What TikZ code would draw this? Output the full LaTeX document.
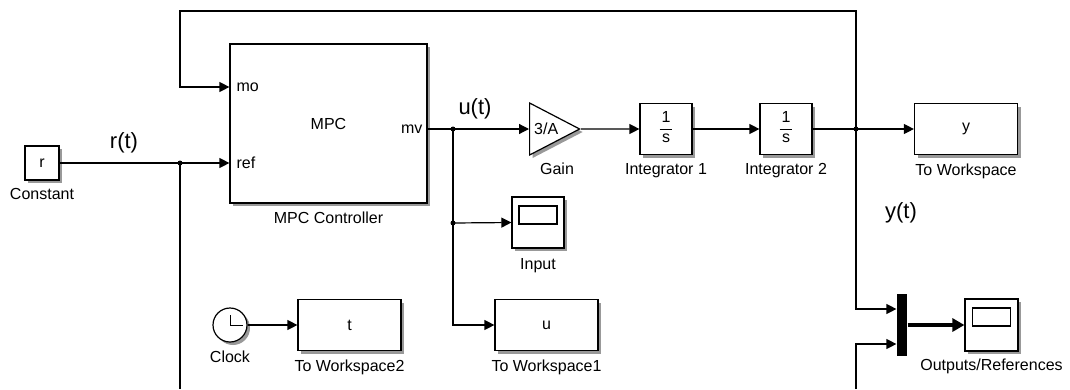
\documentclass[tikz,border=0pt]{standalone}
\usepackage{fontspec}
\setmainfont{Liberation Sans}
\usepackage{tikz}
\usetikzlibrary{shapes.geometric, arrows.meta, positioning, calc, shadows}

\newcommand{\intgr}{{\setlength{\arrayrulewidth}{1pt}%
  \begin{tabular}{@{\hspace{2pt}}c@{\hspace{2pt}}}1\\[1pt]\hline s\end{tabular}}}

\begin{document}
\begin{tikzpicture}[x=1pt, y=-1pt, line width=1.2pt, on grid,
  font=\fontsize{16}{18}\selectfont,
  blockshadow/.style={general shadow={shadow xshift=3pt, shadow yshift=-3pt, fill=black!40}},
  block/.style={draw, fill=white, inner sep=0pt, blockshadow},
  sink/.style={block, minimum width=103pt, minimum height=51pt},
  viewer/.style={block, minimum width=52pt, minimum height=51pt,
    path picture={\draw[line width=1.2pt]
      ([xshift=-19pt, yshift=-9pt]path picture bounding box.north) rectangle
      ([xshift=19pt, yshift=-27pt]path picture bounding box.north);}},
  blocklabel/.style={inner sep=0pt, text height=11pt, text depth=3pt},
  port/.style={inner sep=0pt},
  sig/.style={-{Triangle[length=10pt, width=10pt]}},
  bus/.style={line width=3.5pt, -{Triangle[length=12pt, width=13pt]}},
  dot/.style={circle, fill, inner sep=0pt, minimum size=5pt},
  sigtag/.style={font=\fontsize{22}{24}\selectfont, inner sep=0pt}]

  \useasboundingbox (0,0) rectangle (1070,389);

  % blocks
  \node[block, minimum width=34pt, minimum height=34pt] (cst) at (42,163) {r};
  \node[block, minimum width=197pt, minimum height=159pt] (mpc) at (328.5,123.5) {MPC};
  \node[port, anchor=west] (mo) at (236,87) {mo};
  \node[port, anchor=west] (ref) at (236,163) {ref};
  \node[port, anchor=east] (mv) at (423,129) {mv};
  \node[draw, fill=white, blockshadow, isosceles triangle, isosceles triangle stretches,
    minimum width=52pt, minimum height=50pt, inner sep=0pt, anchor=west]
    (gain) at (529,129) {3/A};
  \node[block, minimum width=52pt, minimum height=51pt] (int1) at (666,129) {\intgr};
  \node[block, minimum width=52pt, minimum height=51pt] (int2) [right=120pt of int1] {\intgr};
  \node[sink] (ysink) [right=180pt of int2] {y};
  \node[viewer] (inscope) at (538,222.5) {};
  \node[draw, circle, fill=white, blockshadow, minimum size=34pt, inner sep=0pt] (clk) at (230,325) {};
  \node[sink] (tsink) at (349.5,325) {t};
  \node[sink] (usink) at (546.5,325) {u};
  \node[fill, minimum width=10pt, minimum height=62pt, inner sep=0pt] (mux) at (902,325) {};
  \node[viewer, minimum width=53pt, minimum height=52pt] (outscope) at (991.5,325) {};

  % captions
  \node[blocklabel] (cstlbl) [below=32pt of cst] {Constant};
  \node[blocklabel] (mpclbl) [below=95.5pt of mpc] {MPC Controller};
  \node[blocklabel] (gainlbl) at (557,170) {Gain};
  \node[blocklabel] (int1lbl) [below=41pt of int1] {Integrator 1};
  \node[blocklabel] (int2lbl) [below=41pt of int2] {Integrator 2};
  \node[blocklabel] (ysinklbl) [below=42pt of ysink] {To Workspace};
  \node[blocklabel] (inscopelbl) [below=42.5pt of inscope] {Input};
  \node[blocklabel] (clklbl) [below=33pt of clk] {Clock};
  \node[blocklabel] (tsinklbl) [below=42pt of tsink] {To Workspace2};
  \node[blocklabel] (usinklbl) [below=42pt of usink] {To Workspace1};
  \node[blocklabel] (outscopelbl) [below=41pt of outscope] {Outputs/References};

  % signal names
  \node[sigtag] (rtag) at (124,143) {r(t)};
  \node[sigtag] (utag) at (475,109) {u(t)};
  \node[sigtag] (ytag) at (901,213) {y(t)};

  % branch points
  \node[dot] (jr) at (180,163) {};
  \node[dot] (ju) at (453,129) {};
  \node[dot] (jin) at (453,223) {};
  \node[dot] (jy) at (856,129) {};
  \coordinate (fbk) at (180,11);
  \coordinate (rbot) at (180,389);
  \coordinate (ybot) at (856,389);

  % clock hands
  \draw[line width=1pt] (clk.center) -- ++(0,-10);
  \draw[line width=1pt] (clk.center) -- ++(13,0);

  % connectors
  \draw (cst.east) -- (jr.center);
  \draw[sig] (jr.center) -- (mpc.west |- ref);
  \draw (jr.center) -- (rbot);
  \draw (mpc.east |- mv) -- (ju.center);
  \draw[sig] (ju.center) -- (gain.west);
  \draw[sig] (gain.east) -- (int1.west);
  \draw[sig] (int1.east) -- (int2.west);
  \draw (int2.east) -- (jy.center);
  \draw[sig] (jy.center) -- (ysink.west);
  \draw[sig] (jy.center) |- (fbk) |- (mpc.west |- mo);
  \draw[sig] (jin.center) -- (inscope.west);
  \draw[sig] (ju.center) |- (usink.west);
  \draw[sig] (clk.east) -- (tsink.west);
  \draw[sig] (jy.center) |- ($(mux.west)+(0,-16)$);
  \draw[sig] (ybot) |- ($(mux.west)+(0,19)$);
  \draw[bus] (mux.east) -- (outscope.west);
\end{tikzpicture}
\end{document}
